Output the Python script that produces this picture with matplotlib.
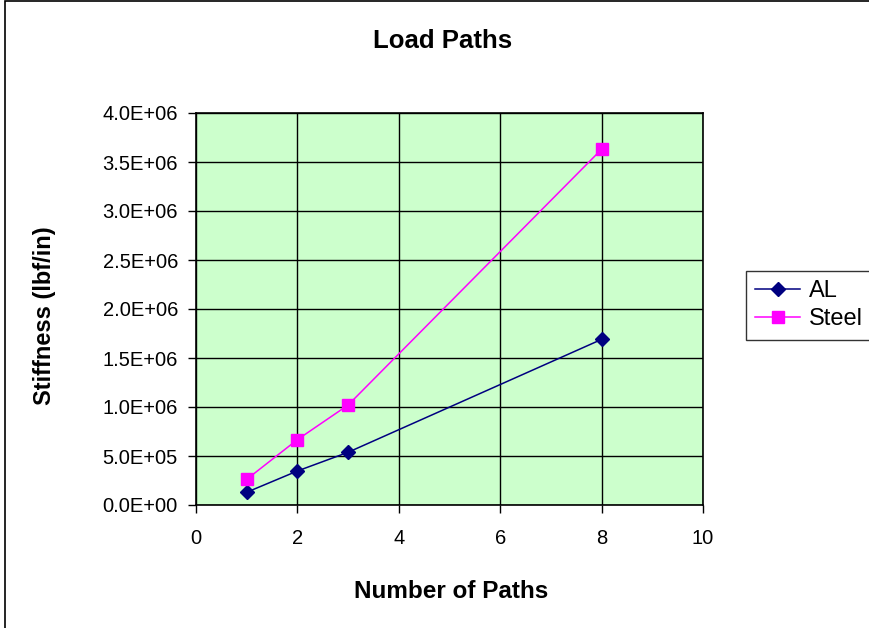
import matplotlib
matplotlib.use("Agg")
import matplotlib.pyplot as plt
from matplotlib.ticker import FuncFormatter, MultipleLocator
from matplotlib.patches import Rectangle

plt.rcParams['font.family'] = ['Liberation Sans', 'DejaVu Sans']

# Stiffness versus number of load paths
paths = [1, 2, 3, 8]
al_stiffness = [1.30e5, 3.47e5, 5.38e5, 1.69e6]
steel_stiffness = [2.62e5, 6.67e5, 1.02e6, 3.63e6]

W, H = 870, 628
fig = plt.figure(figsize=(W / 100, H / 100), dpi=100)
fig.patch.set_facecolor('white')

# chart border (extends past the right and bottom edges)
fig.patches.append(Rectangle((5 / W, -0.1), 1.2, 1.1 - 1.5 / H,
                             transform=fig.transFigure, fill=False,
                             edgecolor='black', linewidth=1.2))

ax = fig.add_axes([196 / W, 1 - 505 / H, 507 / W, 392 / H])
ax.set_facecolor('#CCFFCC')

ax.plot(paths, al_stiffness, color='#000080', linewidth=1.1, marker='D',
        markersize=7.5, markerfacecolor='#000080', markeredgecolor='#000080',
        label='AL', zorder=3)
ax.plot(paths, steel_stiffness, color='#FF00FF', linewidth=1.1, marker='s',
        markersize=8.5, markerfacecolor='#FF00FF', markeredgecolor='#FF00FF',
        label='Steel', zorder=3)

ax.set_xlim(0, 10)
ax.set_ylim(0, 4.0e6)
ax.xaxis.set_major_locator(MultipleLocator(2))
ax.yaxis.set_major_locator(MultipleLocator(5e5))


def sci_fmt(v, pos):
    return f'{v:.1E}'


ax.yaxis.set_major_formatter(FuncFormatter(sci_fmt))
ax.grid(True, color='black', linewidth=1.0)
ax.set_axisbelow(True)
for sp in ax.spines.values():
    sp.set_color('black')
    sp.set_linewidth(1.2)
ax.tick_params(axis='both', direction='out', length=6, width=1,
               labelsize=14.5, colors='black')
ax.tick_params(axis='y', pad=7)
ax.tick_params(axis='x', pad=11)

fig.text(443 / W, 1 - 48 / H, 'Load Paths', ha='center', va='baseline',
         fontsize=18.5, fontweight='bold')
fig.text(451 / W, 1 - 598 / H, 'Number of Paths', ha='center', va='baseline',
         fontsize=17.5, fontweight='bold')
fig.text(45 / W, 1 - 316 / H, 'Stiffness (lbf/in)', ha='center', va='center',
         rotation=90, fontsize=17, fontweight='bold')

leg = fig.legend(loc='upper left', bbox_to_anchor=(746 / W, 1 - 271 / H),
                 fontsize=17, frameon=True, fancybox=False, borderaxespad=0,
                 handlelength=1.9, handletextpad=0.35, borderpad=0.4,
                 labelspacing=0.25)
leg.get_frame().set_edgecolor('black')
leg.get_frame().set_linewidth(1.0)

fig.savefig('out.png', dpi=100)
